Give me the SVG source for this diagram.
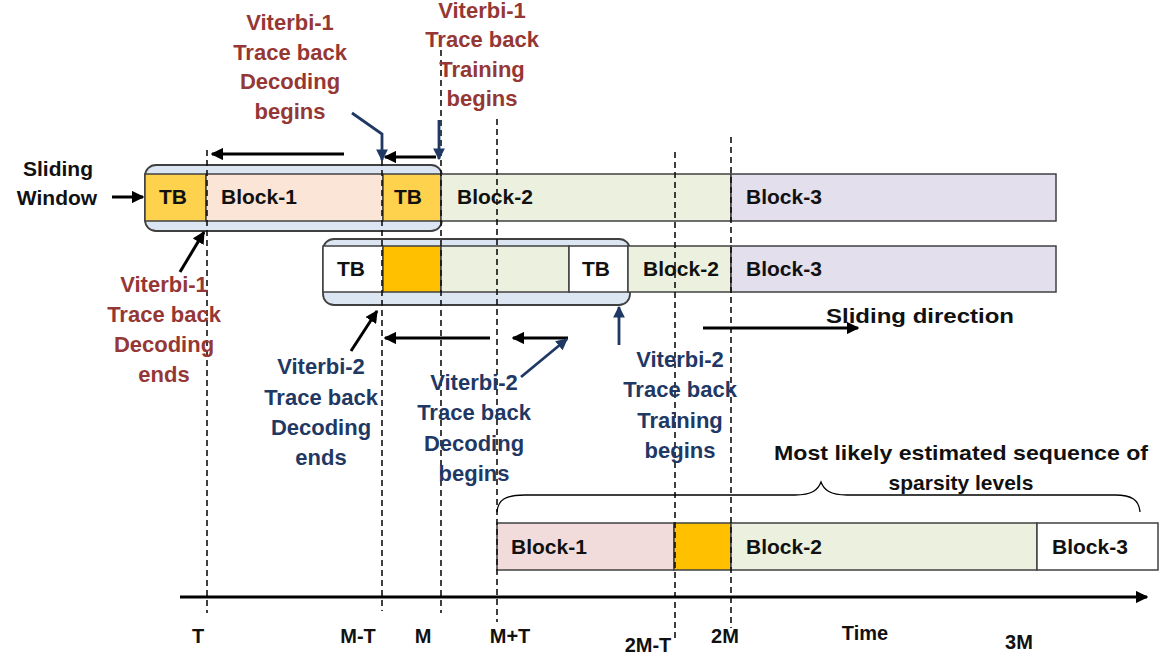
<svg xmlns="http://www.w3.org/2000/svg" width="1171" height="657" viewBox="0 0 1171 657">
<defs>
<style>
text{font-family:"Liberation Sans",Arial,sans-serif;font-weight:bold;}
.lbl{font-size:21px;fill:#111;}
.red{font-size:22px;fill:#953735;text-anchor:middle;}
.blue{font-size:22px;fill:#1f3864;text-anchor:middle;}
.blk{font-size:21px;fill:#111;}
.axl{font-size:20px;fill:#111;text-anchor:middle;}
.box{stroke:#404040;stroke-width:1.5;}
.win{fill:#dce6f2;stroke:#404040;stroke-width:1.8;}
.dash{stroke:#111;stroke-width:1.6;stroke-dasharray:6,4;fill:none;}
.ak{stroke:#000;stroke-width:3;fill:none;}
.ab{stroke:#1f3864;stroke-width:2.8;fill:none;}
</style>
<marker id="mk" viewBox="0 0 10 10" refX="9" refY="5" markerWidth="4.2" markerHeight="4.2" orient="auto" markerUnits="strokeWidth"><path d="M0,0 L10,5 L0,10 z" fill="#000"/></marker>
<marker id="mb" viewBox="0 0 10 10" refX="9" refY="5" markerWidth="4.2" markerHeight="4.2" orient="auto" markerUnits="strokeWidth"><path d="M0,0 L10,5 L0,10 z" fill="#1f3864"/></marker>
</defs>
<rect width="1171" height="657" fill="#fff"/>

<g id="row1">
<rect class="win" x="145" y="165" width="297" height="66" rx="11"/>
<rect class="box" x="145" y="174" width="61" height="47" fill="#ffd24d"/>
<rect class="box" x="206" y="174" width="177" height="47" fill="#fbe5d6"/>
<rect class="box" x="383" y="174" width="58" height="47" fill="#ffd24d"/>
<rect class="box" x="441" y="174" width="290" height="47" fill="#ebf1de"/>
<rect class="box" x="731" y="174" width="325" height="47" fill="#e4dfec"/>
<text class="blk" x="173" y="204" text-anchor="middle">TB</text>
<text class="blk" x="221" y="204">Block-1</text>
<text class="blk" x="408" y="204" text-anchor="middle">TB</text>
<text class="blk" x="457" y="204">Block-2</text>
<text class="blk" x="746" y="204">Block-3</text>
</g>

<g id="row2">
<rect class="win" x="323" y="239" width="307" height="66" rx="11"/>
<rect class="box" x="323" y="246" width="60" height="46" fill="#ffffff"/>
<rect class="box" x="383" y="246" width="58" height="46" fill="#ffc000"/>
<rect class="box" x="441" y="246" width="128" height="46" fill="#ebf1de"/>
<rect class="box" x="569" y="246" width="59" height="46" fill="#ffffff"/>
<rect class="box" x="628" y="246" width="103" height="46" fill="#ebf1de"/>
<rect class="box" x="731" y="246" width="325" height="46" fill="#e4dfec"/>
<text class="blk" x="351" y="276" text-anchor="middle">TB</text>
<text class="blk" x="596" y="276" text-anchor="middle">TB</text>
<text class="blk" x="643" y="276">Block-2</text>
<text class="blk" x="746" y="276">Block-3</text>
</g>

<g id="row3">
<rect class="box" x="497" y="523" width="177" height="47" fill="#f2dcdb"/>
<rect class="box" x="674" y="523" width="57" height="47" fill="#ffc000"/>
<rect class="box" x="731" y="523" width="306" height="47" fill="#ebf1de"/>
<rect class="box" x="1037" y="523" width="121" height="47" fill="#ffffff"/>
<text class="blk" x="511" y="554">Block-1</text>
<text class="blk" x="746" y="554">Block-2</text>
<text class="blk" x="1052" y="554">Block-3</text>
</g>

<g id="dashes">
<line class="dash" x1="207" y1="150" x2="207" y2="613"/>
<line class="dash" x1="382" y1="150" x2="382" y2="611"/>
<line class="dash" x1="441" y1="50" x2="441" y2="613"/>
<line class="dash" x1="497" y1="119" x2="497" y2="622"/>
<line class="dash" x1="675" y1="152" x2="675" y2="640"/>
<line class="dash" x1="731" y1="137" x2="731" y2="628"/>
</g>

<g id="connectors">
<line class="ak" x1="112" y1="197" x2="143" y2="197" stroke-width="2.5" marker-end="url(#mk)"/>
<line class="ak" x1="344" y1="154" x2="212" y2="154" marker-end="url(#mk)"/>
<line class="ak" x1="436" y1="157" x2="385" y2="157" marker-end="url(#mk)"/>
<polyline class="ab" points="352,113 382,134 382,160" marker-end="url(#mb)"/>
<line class="ab" x1="439" y1="120" x2="439" y2="159" marker-end="url(#mb)"/>
<line class="ak" x1="180" y1="272" x2="204" y2="232" marker-end="url(#mk)"/>
<line class="ak" x1="351" y1="351" x2="377" y2="311" marker-end="url(#mk)"/>
<line class="ak" x1="490" y1="338" x2="385" y2="338" marker-end="url(#mk)"/>
<line class="ak" x1="568" y1="338" x2="513" y2="338" marker-end="url(#mk)"/>
<line class="ab" x1="521" y1="377" x2="567" y2="339" marker-end="url(#mb)"/>
<line class="ab" x1="619" y1="345" x2="619" y2="307" marker-end="url(#mb)"/>
<line class="ak" x1="703" y1="328" x2="858" y2="328" marker-end="url(#mk)"/>
<line class="ak" x1="180" y1="597" x2="1147" y2="597" stroke-width="5" marker-end="url(#mk)"/>
<path d="M497,512 C498,500 505,495 525,495 L795,495 C812,495 818,490 821,482 C824,490 830,495 847,495 L1115,495 C1132,495 1139,500 1140,512" fill="none" stroke="#000" stroke-width="1.3"/>
</g>

<g id="labels">
<text class="lbl" x="58" y="176" font-size="23" text-anchor="middle">Sliding</text>
<text class="lbl" x="57" y="205" font-size="23" text-anchor="middle">Window</text>
<text class="red"><tspan x="290" y="30">Viterbi-1</tspan><tspan x="290" y="60">Trace back</tspan><tspan x="290" y="89">Decoding</tspan><tspan x="290" y="119">begins</tspan></text>
<text class="red"><tspan x="482" y="18">Viterbi-1</tspan><tspan x="482" y="47">Trace back</tspan><tspan x="482" y="77">Training</tspan><tspan x="482" y="106">begins</tspan></text>
<text class="red"><tspan x="164" y="292">Viterbi-1</tspan><tspan x="164" y="322">Trace back</tspan><tspan x="164" y="352">Decoding</tspan><tspan x="164" y="382">ends</tspan></text>
<text class="blue"><tspan x="321" y="374">Viterbi-2</tspan><tspan x="321" y="405">Trace back</tspan><tspan x="321" y="435">Decoding</tspan><tspan x="321" y="465">ends</tspan></text>
<text class="blue"><tspan x="474" y="390">Viterbi-2</tspan><tspan x="474" y="420">Trace back</tspan><tspan x="474" y="451">Decoding</tspan><tspan x="474" y="481">begins</tspan></text>
<text class="blue"><tspan x="680" y="367">Viterbi-2</tspan><tspan x="680" y="397">Trace back</tspan><tspan x="680" y="428">Training</tspan><tspan x="680" y="458">begins</tspan></text>
<text class="lbl" x="826" y="323" font-size="23" textLength="188" lengthAdjust="spacingAndGlyphs">Sliding direction</text>
<text class="lbl" x="961" y="460" text-anchor="middle" font-size="22.5" textLength="374" lengthAdjust="spacingAndGlyphs">Most likely estimated sequence of</text>
<text class="lbl" x="961" y="490" text-anchor="middle" font-size="22.5">sparsity levels</text>
<text class="axl" x="198" y="643">T</text>
<text class="axl" x="358" y="643">M-T</text>
<text class="axl" x="423" y="643">M</text>
<text class="axl" x="510" y="643">M+T</text>
<text class="axl" x="648" y="652">2M-T</text>
<text class="axl" x="725" y="643">2M</text>
<text class="axl" x="865" y="640">Time</text>
<text class="axl" x="1019" y="649">3M</text>
</g>
</svg>
